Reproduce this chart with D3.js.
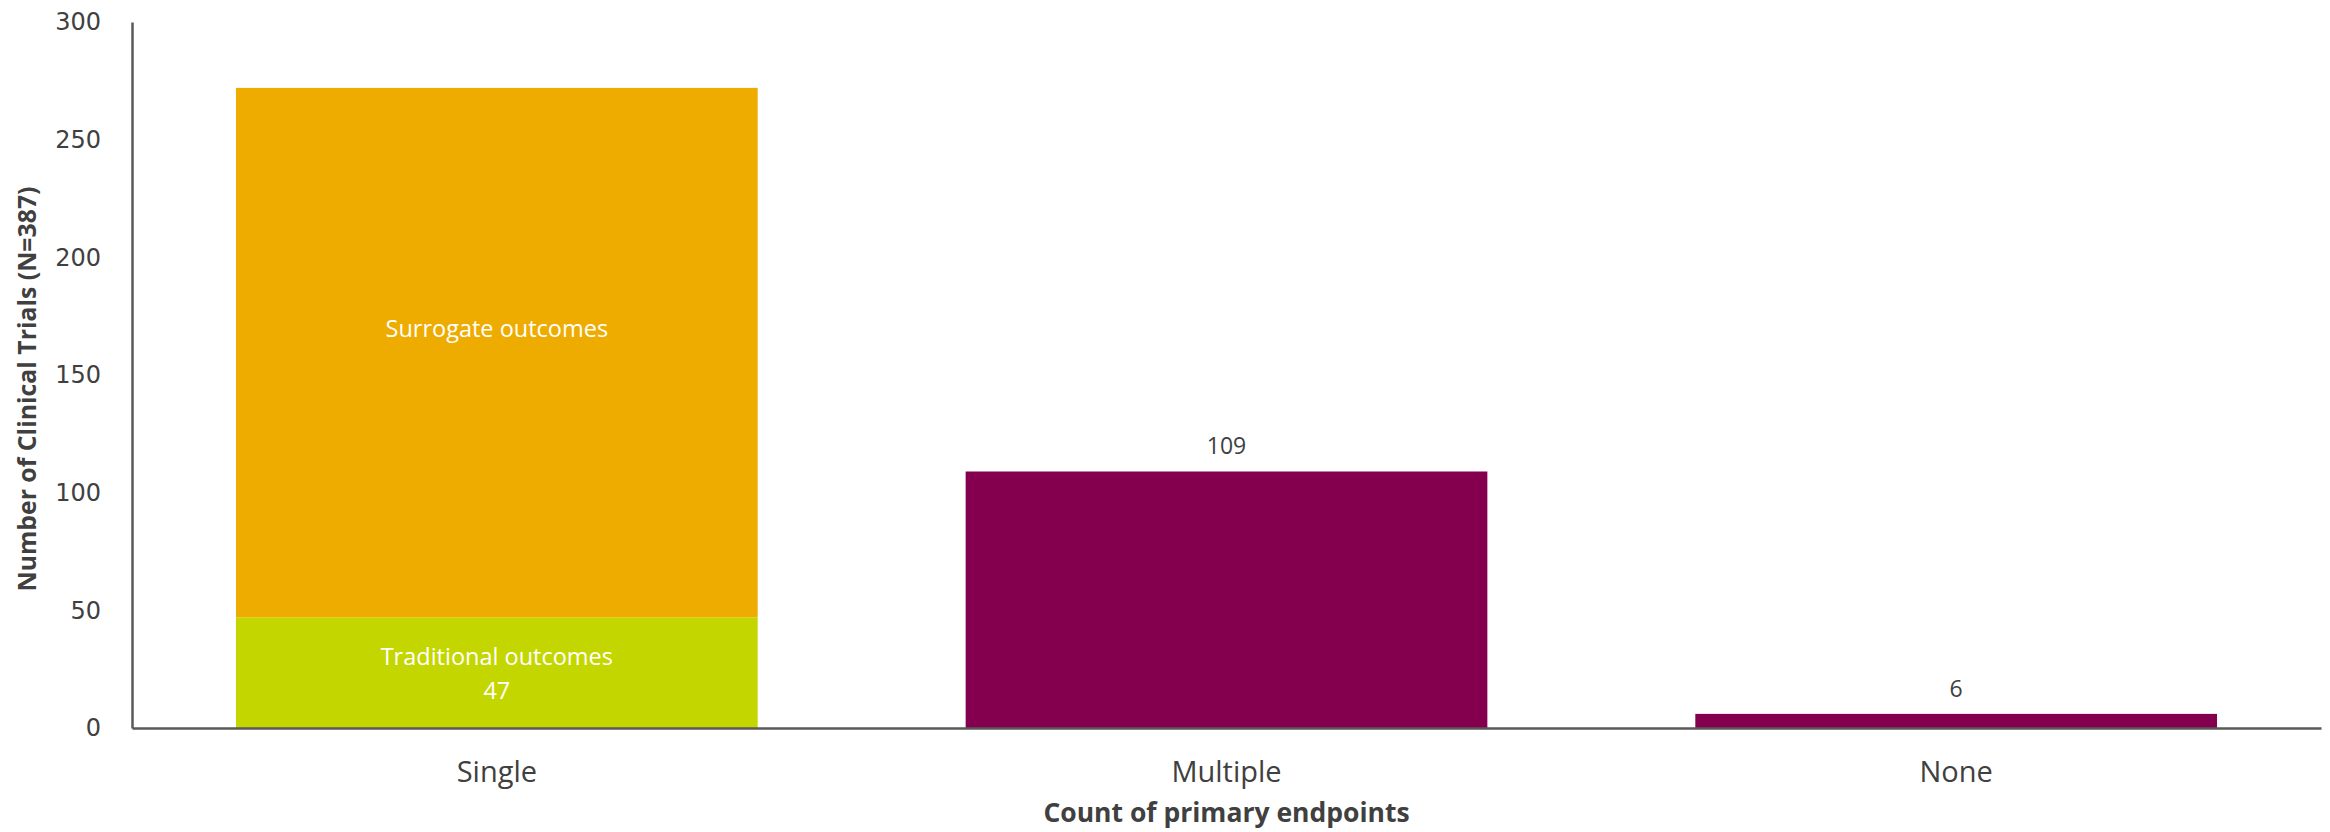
<!DOCTYPE html>
<html>
<head>
<meta charset="utf-8">
<script src="https://cdn.jsdelivr.net/npm/d3@7"></script>
<style>
  html, body { margin: 0; padding: 0; background: #fff; }
  svg { display: block; }
</style>
</head>
<body>
<svg id="chart" width="2330" height="832"></svg>
<script>
// Categories along the x axis
const categories = ["Single", "Multiple", "None"];
// Stacked segments for the "Single" bar
const traditional = [47, 0, 0];
const surrogate = [225, 0, 0];
// Plain bars for the remaining categories
const other = [0, 109, 6];
const yTicks = [0, 50, 100, 150, 200, 250, 300];

const W = 2330, H = 832;
const margin = { left: 132, right: 9, top: 22, bottom: 104 };
const svg = d3.select("#chart");

const x = d3.scaleBand()
  .domain(categories)
  .range([margin.left, W - margin.right])
  .paddingInner(0.285)
  .paddingOuter(0.1425);

const y = d3.scaleLinear()
  .domain([0, 300])
  .range([H - margin.bottom, margin.top]);

const textColor = "#404040";
const axisColor = "#595959";

// Stacked Single bar
const rows = categories.map((c, i) => ({ cat: c, traditional: traditional[i], surrogate: surrogate[i], other: other[i] }));
const stack = d3.stack().keys(["traditional", "surrogate", "other"]);
const series = stack(rows);
const colors = { traditional: "#C4D600", surrogate: "#EFAC00", other: "#84004F" };

svg.append("g").selectAll("g")
  .data(series)
  .join("g")
  .attr("fill", d => colors[d.key])
  .selectAll("rect")
  .data(d => d.map(p => ({ p, cat: p.data.cat })))
  .join("rect")
  .filter(d => d.p[1] - d.p[0] > 0)
  .attr("x", d => x(d.cat))
  .attr("width", x.bandwidth())
  .attr("y", d => y(d.p[1]))
  .attr("height", d => y(d.p[0]) - y(d.p[1]));

// Y axis
const yAxis = svg.append("g")
  .attr("transform", `translate(${margin.left},0)`)
  .call(d3.axisLeft(y).tickValues(yTicks).tickSize(0).tickPadding(31));
yAxis.select(".domain").attr("stroke", axisColor).attr("stroke-width", 2.5);
yAxis.selectAll("text")
  .attr("font-family", "DejaVu Sans, Verdana, sans-serif")
  .attr("font-size", 24)
  .attr("fill", textColor);

// X axis
const xAxis = svg.append("g")
  .attr("transform", `translate(0,${y(0)})`)
  .call(d3.axisBottom(x).tickSize(0).tickPadding(33));
xAxis.select(".domain").attr("stroke", axisColor).attr("stroke-width", 2.5);
xAxis.selectAll("text")
  .attr("font-family", "Open Sans, sans-serif")
  .attr("font-size", 29)
  .attr("fill", textColor);

// In-bar labels for the stacked segments
const cx = x("Single") + x.bandwidth() / 2;
const segLabels = svg.append("g")
  .attr("font-family", "Open Sans, sans-serif")
  .attr("font-size", 23.5)
  .attr("fill", "#ffffff")
  .attr("text-anchor", "middle");
segLabels.append("text")
  .attr("x", cx)
  .attr("y", y(traditional[0] + surrogate[0] / 2) - 24)
  .attr("dy", "0.35em")
  .text("Surrogate outcomes");
segLabels.append("text")
  .attr("x", cx)
  .attr("y", y(traditional[0] / 2) - 16)
  .attr("dy", "0.35em")
  .text("Traditional outcomes");
segLabels.append("text")
  .attr("x", cx)
  .attr("y", y(traditional[0] / 2) + 18)
  .attr("dy", "0.35em")
  .text(traditional[0]);

// Value labels above plain bars
svg.append("g")
  .selectAll("text")
  .data(rows.filter(r => r.other > 0))
  .join("text")
  .attr("x", d => x(d.cat) + x.bandwidth() / 2)
  .attr("y", d => y(d.other) - 17)
  .attr("text-anchor", "middle")
  .attr("font-family", "Open Sans, sans-serif")
  .attr("font-size", 23)
  .attr("fill", textColor)
  .text(d => d.other);

// Axis titles
svg.append("text")
  .attr("x", (margin.left + W - margin.right) / 2)
  .attr("y", 813)
  .attr("dy", "0.35em")
  .attr("text-anchor", "middle")
  .attr("font-family", "Open Sans, sans-serif")
  .attr("font-weight", "bold")
  .attr("font-size", 26.5)
  .attr("fill", textColor)
  .text("Count of primary endpoints");

svg.append("text")
  .attr("transform", `translate(27,${(margin.top + y(0)) / 2 + 14}) rotate(-90)`)
  .attr("dy", "0.35em")
  .attr("text-anchor", "middle")
  .attr("font-family", "Open Sans, sans-serif")
  .attr("font-weight", "bold")
  .attr("font-size", 24.8)
  .attr("fill", textColor)
  .text("Number of Clinical Trials (N=387)");
</script>
</body>
</html>
